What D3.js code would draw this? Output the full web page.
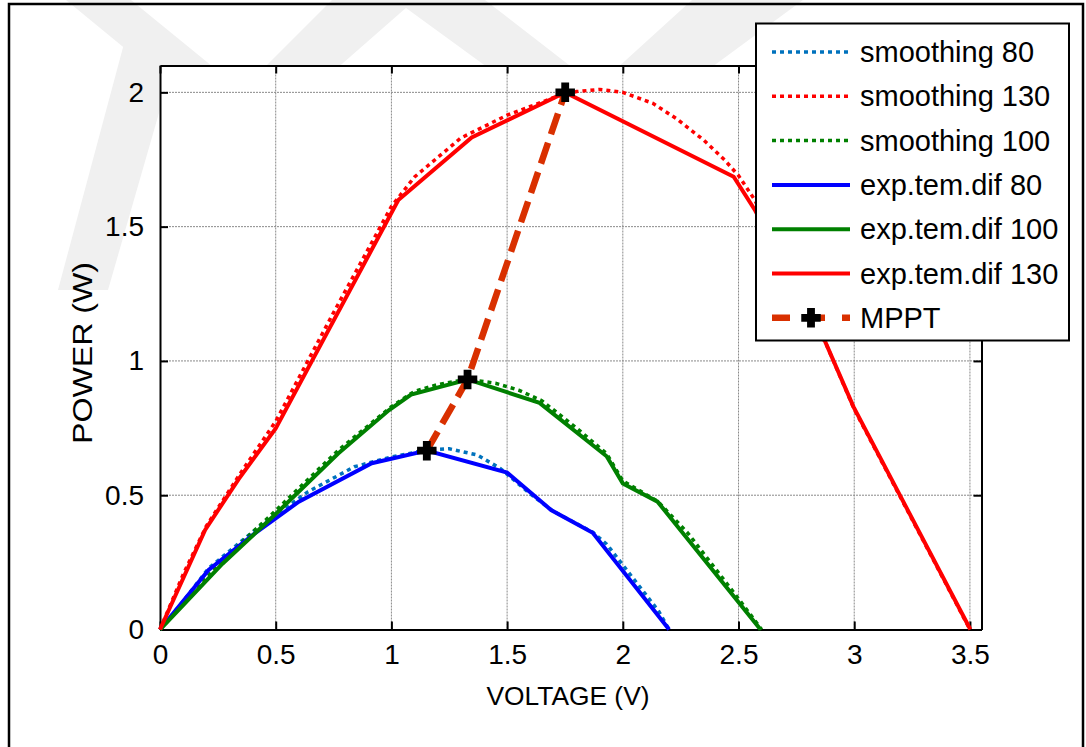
<!DOCTYPE html>
<html>
<head>
<meta charset="utf-8">
<script src="https://cdn.jsdelivr.net/npm/d3@7"></script>
<style>
  body { margin: 0; background: #fff; }
  text { font-family: "Liberation Sans", Arial, sans-serif; fill: #000; }
</style>
</head>
<body>
<div id="my_dataviz"></div>
<script>
// voltage (V) / power (W) pairs
var exp80 = [[0,0],[0.21,0.222],[0.41,0.358],[0.6,0.476],[0.915,0.619],[0.99,0.634],[1.153,0.666],[1.5,0.584],[1.69,0.445],[1.87,0.36],[2.2,0]];
var exp100 = [[0,0],[0.27,0.245],[0.5,0.43],[0.77,0.655],[0.99,0.817],[1.085,0.875],[1.33,0.931],[1.64,0.844],[1.93,0.645],[2.0,0.544],[2.15,0.476],[2.595,0]];
var exp130 = [[0,0],[0.195,0.371],[0.34,0.56],[0.5,0.749],[1.03,1.599],[1.347,1.832],[1.751,2.0],[2.479,1.686],[2.572,1.56],[2.875,1.071],[2.997,0.829],[3.502,0]];

var smooth80 = [[0,0],[0.1,0.105],[0.21,0.228],[0.41,0.37],[0.64,0.513],[0.84,0.606],[1.0,0.642],[1.15,0.668],[1.25,0.673],[1.37,0.65],[1.47,0.6],[1.6,0.505],[1.7,0.44],[1.87,0.362],[1.93,0.318],[2.155,0.068],[2.2,0]];
var smooth100 = [[0,0],[0.1,0.098],[0.27,0.257],[0.5,0.443],[0.77,0.667],[1.0,0.83],[1.1,0.887],[1.2,0.912],[1.33,0.932],[1.45,0.917],[1.55,0.891],[1.65,0.852],[1.8,0.75],[1.93,0.655],[2.0,0.553],[2.15,0.478],[2.28,0.36],[2.48,0.137],[2.6,0]];
var smooth130 = [[0,0],[0.1,0.205],[0.2,0.385],[0.35,0.585],[0.5,0.775],[0.75,1.18],[1.0,1.575],[1.1,1.685],[1.3,1.83],[1.5,1.915],[1.7,1.98],[1.8,2.003],[1.9,2.011],[2.0,2.0],[2.13,1.959],[2.23,1.903],[2.35,1.822],[2.44,1.748],[2.5,1.69],[2.57,1.6],[2.7,1.36],[2.88,1.06],[3.0,0.82],[3.25,0.41],[3.5,0]];

var mppt = [[1.153,0.666],[1.329,0.931],[1.751,2.0]];

var xTicks = [0,0.5,1,1.5,2,2.5,3,3.5];
var yTicks = [0,0.5,1,1.5,2];

var legendLabels = ["smoothing 80","smoothing 130","smoothing 100","exp.tem.dif 80","exp.tem.dif 100","exp.tem.dif 130","MPPT"];

var W = 1086, H = 747;
var axL = 160, axR = 981.5, axT = 65.5, axB = 629.5;

var svg = d3.select("#my_dataviz")
  .append("svg")
  .attr("width", W)
  .attr("height", H);

svg.append("rect").attr("width", W).attr("height", H).attr("fill", "#fff");

// faint watermark chevrons at the top
var marks = svg.append("g").attr("fill", "#f0f0f0");
[[[66,0],[131,0],[278,120],[212,120]],
 [[332,0],[415,0],[278,120],[212,120]],
 [[395,0],[485,0],[640,120],[560,120]],
 [[692,0],[803,0],[640,120],[560,120]],
 [[125,40],[180,40],[108,290],[58,290]]].forEach(function(p) {
  marks.append("polygon").attr("points", p.join(" "));
});

// outer frame
svg.append("path")
  .attr("d", "M9,760 L9,4 L1083,4 L1083,760")
  .attr("fill", "none")
  .attr("stroke", "#000")
  .attr("stroke-width", 2.5);

var x = d3.scaleLinear().domain([0, 3.55]).range([axL, axR]);
var y = d3.scaleLinear().domain([0, 2.1]).range([axB, axT]);

svg.append("rect")
  .attr("x", axL).attr("y", axT)
  .attr("width", axR - axL).attr("height", axB - axT)
  .attr("fill", "#fff");

// grid
var grid = svg.append("g")
  .attr("stroke", "#8a8a8a")
  .attr("stroke-width", 1)
  .attr("stroke-dasharray", "2,1");
grid.selectAll(".gx").data(xTicks.filter(function(d) { return d > 0; }))
  .enter().append("line")
  .attr("x1", function(d) { return x(d); }).attr("x2", function(d) { return x(d); })
  .attr("y1", axT).attr("y2", axB);
grid.selectAll(".gy").data(yTicks.filter(function(d) { return d > 0; }))
  .enter().append("line")
  .attr("y1", function(d) { return y(d); }).attr("y2", function(d) { return y(d); })
  .attr("x1", axL).attr("x2", axR);

// axes with inward ticks on all four sides
var xAxis = svg.append("g")
  .attr("transform", "translate(0," + axB + ")")
  .call(d3.axisBottom(x).tickValues(xTicks).tickSize(-8).tickSizeOuter(0).tickPadding(14).tickFormat(d3.format("")));
var xTop = svg.append("g")
  .attr("transform", "translate(0," + axT + ")")
  .call(d3.axisTop(x).tickValues(xTicks).tickSize(-8).tickSizeOuter(0).tickFormat(""));
var yAxis = svg.append("g")
  .attr("transform", "translate(" + axL + ",0)")
  .call(d3.axisLeft(y).tickValues(yTicks).tickSize(-8).tickSizeOuter(0).tickPadding(16).tickFormat(d3.format("")));
var yRight = svg.append("g")
  .attr("transform", "translate(" + axR + ",0)")
  .call(d3.axisRight(y).tickValues(yTicks).tickSize(-8).tickSizeOuter(0).tickFormat(""));

[xAxis, xTop, yAxis, yRight].forEach(function(a) {
  a.select(".domain").attr("stroke", "#000").attr("stroke-width", 2);
  a.selectAll(".tick line").attr("stroke", "#000").attr("stroke-width", 2);
  a.selectAll("text").attr("font-size", 28).attr("font-family", "Liberation Sans, Arial, sans-serif").attr("fill", "#000");
});
xAxis.selectAll("text").attr("dy", "0.72em");

svg.append("text")
  .attr("x", 568).attr("y", 705)
  .attr("text-anchor", "middle")
  .attr("font-size", 26)
  .attr("textLength", 163)
  .attr("lengthAdjust", "spacingAndGlyphs")
  .text("VOLTAGE (V)");

svg.append("text")
  .attr("transform", "translate(92,353) rotate(-90)")
  .attr("text-anchor", "middle")
  .attr("font-size", 28)
  .attr("textLength", 182)
  .attr("lengthAdjust", "spacingAndGlyphs")
  .text("POWER (W)");

var line = d3.line()
  .x(function(d) { return x(d[0]); })
  .y(function(d) { return y(d[1]); });

var series = [
  {data: smooth80, color: "#0072bd", dash: "4,4"},
  {data: smooth130, color: "#ff0000", dash: "4,4"},
  {data: smooth100, color: "#008000", dash: "4,4"},
  {data: exp80, color: "#0000ff", dash: null},
  {data: exp100, color: "#008000", dash: null},
  {data: exp130, color: "#ff0000", dash: null}
];

var plot = svg.append("g");
series.forEach(function(s) {
  plot.append("path")
    .datum(s.data)
    .attr("d", line)
    .attr("fill", "none")
    .attr("stroke", s.color)
    .attr("stroke-width", s.dash ? 3.5 : 4)
    .attr("stroke-dasharray", s.dash);
});

plot.append("path")
  .datum(mppt)
  .attr("d", line)
  .attr("fill", "none")
  .attr("stroke", "#d93000")
  .attr("stroke-width", 6.5)
  .attr("stroke-dasharray", "22,9");

var cross = d3.symbol().type(d3.symbolCross).size(170);
plot.selectAll(".mk").data(mppt).enter().append("path")
  .attr("d", cross)
  .attr("transform", function(d) { return "translate(" + x(d[0]) + "," + y(d[1]) + ")"; })
  .attr("fill", "#000")
  .attr("stroke", "#000")
  .attr("stroke-width", 2);

// legend
var lg = svg.append("g");
lg.append("rect")
  .attr("x", 756).attr("y", 23.5)
  .attr("width", 313).attr("height", 317)
  .attr("fill", "#fff")
  .attr("stroke", "#000")
  .attr("stroke-width", 2);

var legendSeries = series.concat([{color: "#d93000", dash: "22,9", mppt: true}]);
legendSeries.forEach(function(s, i) {
  var ly = 52 + i * 44.3;
  lg.append("line")
    .attr("x1", 772).attr("x2", 850)
    .attr("y1", ly).attr("y2", ly)
    .attr("stroke", s.color)
    .attr("stroke-width", s.mppt ? 6.5 : (s.dash ? 3.5 : 4))
    .attr("stroke-dasharray", s.mppt ? "18,17" : s.dash);
  if (s.mppt) {
    lg.append("path")
      .attr("d", cross)
      .attr("transform", "translate(811," + ly + ")")
      .attr("fill", "#000")
      .attr("stroke", "#000")
      .attr("stroke-width", 2);
  }
  lg.append("text")
    .attr("x", 860).attr("y", ly)
    .attr("dy", "0.35em")
    .attr("font-size", 29)
    .text(legendLabels[i]);
});
</script>
</body>
</html>
